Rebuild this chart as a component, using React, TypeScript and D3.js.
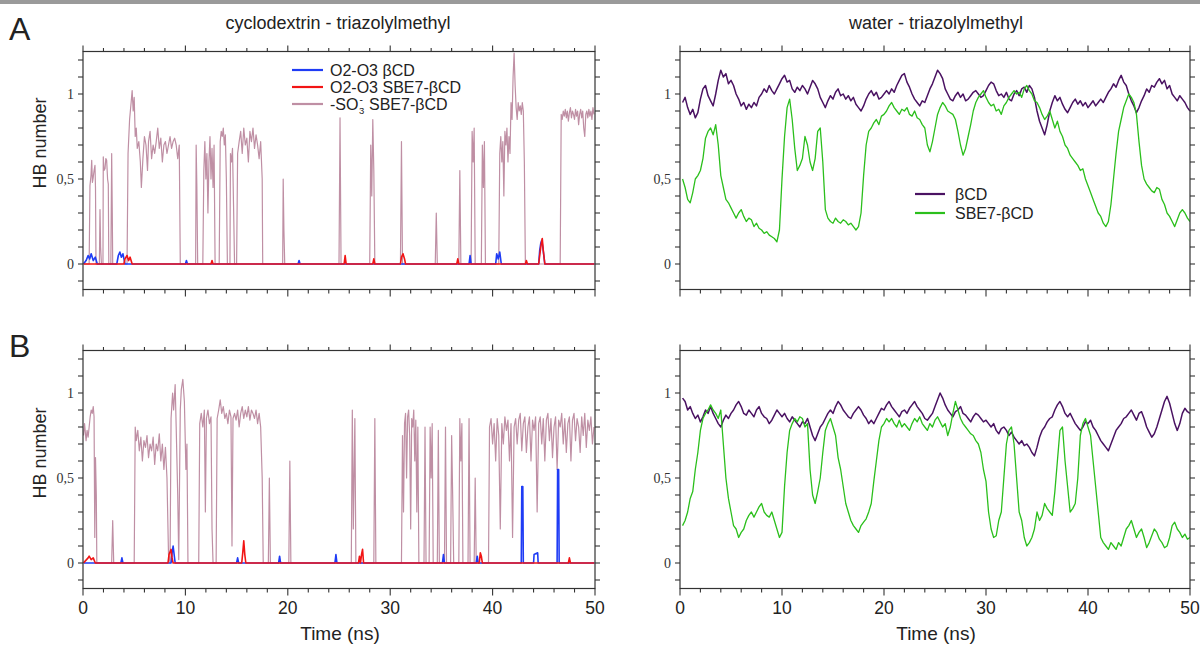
import React from 'react';
import * as d3 from 'd3';

// ---------- DATA ----------
const panelTitles = ['cyclodextrin - triazolylmethyl', 'water - triazolylmethyl'];
const rowLetters = ['A', 'B'];
const xTickLabels = [0, 10, 20, 30, 40, 50];
const yTickLabels = [0, 0.5, 1];
const legendCD = ['O2-O3 βCD', 'O2-O3 SBE7-βCD', 'SBE7-βCD'];
const legendW = ['βCD', 'SBE7-βCD'];

// water series: sampled every 0.25 ns starting at 0.25 ns
const waterStep = 0.25;
const purpleA = [
  .95,.98,.92,.88,.91,.86,.89,.97,1.03,1.05,.99,.96,.93,1.0,1.08,1.14,1.1,1.12,1.06,1.08,
  1.05,1.0,.97,.93,.95,.91,.94,.92,.95,.93,.98,1.0,1.03,1.01,1.05,1.02,1.0,1.03,1.06,1.09,
  1.11,1.07,1.08,1.03,1.01,1.04,1.02,1.05,1.03,1.0,1.04,1.08,1.06,1.03,.98,.95,.92,.96,.99,.97,
  1.01,1.03,.99,1.0,.97,.99,.96,.98,.94,.92,.9,.93,.97,1.0,1.02,.99,1.01,.97,.98,1.0,
  1.02,1.0,1.03,1.01,1.05,1.08,1.11,1.12,1.07,1.04,1.0,.97,.95,.93,.96,.95,.99,1.03,1.06,1.1,
  1.14,1.12,1.09,1.03,1.0,.97,.96,.99,1.01,.98,1.0,.96,.97,.99,1.01,1.02,1.0,.98,.99,1.02,
  1.05,1.07,1.06,1.02,.99,1.0,.98,1.01,.97,.96,1.0,1.02,.99,1.03,1.04,1.01,1.05,1.03,.98,.9,
  .84,.8,.76,.82,.9,.95,.99,.96,.98,.94,.91,.89,.92,.95,.97,.94,.96,.93,.95,.92,
  .94,.96,.93,.95,.97,.95,.98,1.01,1.03,1.06,1.04,1.08,1.11,1.07,1.05,1.0,.96,.93,.89,.92,
  .96,.99,1.03,1.01,1.05,1.04,1.07,1.09,1.06,1.08,1.03,1.05,1.0,.98,.96,.99,.97,.95,.92,.9,
];
const greenA = [
  .5,.45,.38,.36,.42,.5,.52,.55,.62,.74,.78,.8,.76,.82,.7,.52,.45,.38,.36,.33,
  .3,.27,.3,.32,.28,.25,.27,.26,.22,.24,.21,.2,.18,.19,.17,.16,.15,.13,.2,.5,
  .75,.92,.97,.85,.68,.55,.58,.62,.75,.7,.6,.55,.62,.78,.8,.6,.32,.27,.25,.24,
  .27,.25,.24,.26,.25,.23,.24,.22,.2,.22,.3,.52,.7,.78,.8,.83,.85,.82,.87,.88,
  .9,.93,.95,.92,.9,.88,.91,.9,.92,.88,.87,.9,.86,.85,.82,.8,.7,.66,.72,.8,
  .88,.92,.95,.93,.9,.89,.88,.85,.78,.7,.64,.68,.75,.82,.9,.95,.98,1.0,1.02,.98,
  .95,.93,.94,.9,.91,.88,.93,.95,.98,1.0,1.02,1.0,1.01,.98,1.03,1.05,1.02,1.0,.96,.95,
  .92,.88,.85,.87,.9,.85,.8,.84,.78,.75,.7,.68,.64,.62,.6,.58,.55,.56,.5,.46,
  .42,.38,.34,.3,.28,.24,.22,.25,.35,.5,.65,.78,.85,.92,.96,1.0,.98,.95,.88,.72,
  .58,.5,.47,.45,.43,.42,.45,.44,.38,.35,.3,.28,.25,.22,.26,.3,.32,.3,.27,.25,
];
const purpleB = [
  .97,.95,.9,.92,.88,.85,.87,.83,.86,.9,.88,.92,.88,.85,.82,.8,.84,.87,.85,.88,
  .9,.93,.95,.92,.88,.87,.9,.88,.86,.9,.92,.88,.86,.85,.82,.84,.87,.9,.88,.86,
  .88,.85,.83,.86,.84,.82,.8,.83,.82,.85,.8,.75,.72,.76,.8,.82,.85,.88,.9,.88,
  .92,.95,.93,.9,.88,.86,.85,.88,.9,.92,.9,.87,.85,.82,.84,.82,.85,.88,.91,.9,
  .93,.95,.92,.9,.88,.86,.89,.9,.88,.91,.93,.95,.92,.9,.88,.85,.84,.86,.88,.92,
  .96,1.0,.97,.93,.9,.88,.86,.89,.9,.92,.88,.87,.85,.83,.86,.88,.87,.85,.83,.84,
  .82,.8,.82,.78,.76,.79,.8,.78,.75,.77,.74,.72,.7,.72,.69,.7,.68,.65,.63,.68,
  .74,.78,.8,.83,.85,.86,.9,.93,.95,.92,.88,.86,.88,.85,.82,.8,.78,.8,.83,.82,
  .84,.8,.78,.75,.72,.7,.68,.66,.7,.74,.78,.8,.82,.85,.86,.88,.9,.87,.84,.88,
  .89,.85,.8,.77,.74,.76,.8,.85,.9,.95,.98,.94,.88,.82,.78,.82,.88,.91,.89,.88,
];
const greenB = [
  .22,.25,.3,.38,.42,.55,.65,.78,.85,.88,.9,.93,.9,.88,.85,.9,.7,.5,.38,.3,
  .22,.2,.15,.18,.2,.25,.28,.3,.27,.3,.33,.35,.3,.28,.27,.3,.25,.2,.15,.18,
  .45,.65,.78,.82,.85,.83,.86,.85,.8,.82,.55,.4,.35,.42,.5,.65,.78,.82,.85,.8,
  .75,.62,.55,.45,.35,.3,.25,.22,.2,.18,.22,.24,.26,.3,.35,.48,.6,.72,.8,.82,
  .85,.83,.85,.82,.8,.84,.8,.82,.8,.78,.82,.85,.83,.86,.82,.8,.78,.82,.8,.84,
  .86,.83,.8,.82,.75,.8,.88,.95,.9,.85,.82,.8,.78,.76,.75,.72,.7,.65,.55,.48,
  .3,.2,.15,.16,.25,.3,.5,.7,.78,.8,.7,.5,.3,.25,.15,.1,.12,.15,.2,.3,
  .25,.28,.35,.32,.3,.28,.42,.6,.78,.8,.6,.45,.3,.32,.35,.5,.75,.82,.85,.8,
  .75,.6,.45,.3,.15,.12,.1,.08,.12,.1,.08,.12,.1,.15,.2,.22,.25,.2,.15,.18,
  .2,.15,.09,.12,.16,.2,.18,.14,.12,.09,.1,.15,.22,.24,.2,.18,.15,.17,.14,.15,
];

// cyclodextrin series: [time (ns), HB number]
const so3A: [number, number][] = [
  [0.05,0],[0.6,0],[0.68,0.46],[0.78,0.52],[0.85,0.61],[0.92,0.48],[1.0,0.51],[1.08,0.55],[1.17,0.58],[1.22,0.45],[1.27,0],
  [1.6,0],[1.66,0.32],[1.72,0.1],[1.8,0],[1.95,0],[1.98,0.63],[2.05,0.55],[2.15,0.56],[2.23,0.62],[2.31,0.61],[2.4,0.5],[2.47,0.47],[2.52,0],
  [2.72,0],[2.8,0.65],[2.86,0.3],[2.9,0],
  [4.3,0],[4.4,0.65],[4.55,0.85],[4.7,0.95],[4.8,1.02],[4.9,0.9],[5.0,0.98],[5.1,0.75],[5.2,0.8],[5.3,0.68],[5.45,0.72],[5.6,0.6],[5.7,0.45],
  [5.85,0.62],[6.0,0.75],[6.15,0.7],[6.3,0.55],[6.4,0.72],[6.55,0.78],[6.7,0.62],[6.85,0.7],[7.0,0.65],[7.15,0.72],[7.3,0.8],[7.45,0.68],
  [7.6,0.74],[7.75,0.6],[7.9,0.7],[8.05,0.72],[8.2,0.65],[8.35,0.7],[8.5,0.75],[8.65,0.68],[8.8,0.72],[8.95,0.74],[9.1,0.7],[9.25,0.62],[9.4,0.7],[9.5,0],
  [11.0,0],[11.05,0.7],[11.12,0.45],[11.2,0],[11.7,0],[11.8,0.55],[11.9,0.72],[12.0,0.5],[12.1,0.65],[12.2,0.3],[12.3,0.6],[12.4,0.75],[12.5,0.5],
  [12.6,0.68],[12.7,0.45],[12.8,0.7],[12.9,0],[13.3,0],[13.4,0.72],[13.5,0.78],[13.6,0.75],[13.7,0.8],[13.8,0.7],[13.9,0.76],[14.0,0.5],[14.1,0],
  [14.35,0],[14.4,0.65],[14.5,0.6],[14.6,0.68],[14.7,0.35],[14.8,0],[15.0,0],[15.1,0.65],[15.25,0.72],[15.4,0.78],[15.55,0.65],[15.7,0.8],
  [15.85,0.7],[16.0,0.74],[16.15,0.6],[16.3,0.78],[16.45,0.72],[16.6,0.8],[16.75,0.68],[16.9,0.76],[17.05,0.7],[17.2,0.62],[17.35,0.72],[17.5,0.5],[17.55,0],
  [19.5,0],[19.55,0.5],[19.62,0.2],[19.7,0],
  [25.0,0],[25.1,0.86],[25.2,0],[28.0,0],[28.1,0.7],[28.2,0.4],[28.3,0.85],[28.4,0.55],[28.5,0],[31.0,0],[31.1,0.72],[31.2,0],
  [34.4,0],[34.5,0.3],[34.6,0],[36.7,0],[36.8,0.55],[36.9,0],[37.9,0],[38.0,0.78],[38.1,0.6],[38.2,0.8],[38.3,0],
  [38.9,0],[39.0,0.7],[39.1,0.45],[39.2,0.72],[39.3,0],
  [40.6,0],[40.7,0.65],[40.8,0.75],[40.9,0.6],[41.0,0.72],[41.1,0.4],[41.2,0.78],[41.3,0.7],[41.4,0.8],[41.5,0.6],[41.6,0.75],[41.7,0.65],
  [41.8,0.95],[41.9,0.85],[42.0,1.1],[42.1,1.24],[42.2,1.05],[42.3,0.92],[42.4,0.85],[42.5,0.95],[42.6,0.9],[42.7,0.93],[42.8,0.88],
  [42.9,0.95],[43.0,0.9],[43.1,0.6],[43.2,0],
  [46.6,0],[46.7,0.88],[46.8,0.85],[46.9,0.9],[47.0,0.87],[47.1,0.91],[47.2,0.86],[47.3,0.9],[47.4,0.84],[47.5,0.89],[47.6,0.92],
  [47.7,0.86],[47.8,0.9],[47.9,0.88],[48.0,0.85],[48.1,0.91],[48.2,0.87],[48.3,0.9],[48.4,0.82],[48.5,0.88],[48.6,0.91],[48.7,0.86],
  [48.8,0.9],[48.9,0.8],[49.0,0.75],[49.1,0.88],[49.2,0.9],[49.3,0.86],[49.4,0.91],[49.5,0.87],[49.6,0.9],[49.7,0.85],[49.8,0.92],[49.9,0.88],
];
const blueA: [number, number][] = [
  [0.05,0],[0.3,0.02],[0.5,0.05],[0.65,0.03],[0.8,0.06],[1.0,0.02],[1.2,0.04],[1.4,0],[3.3,0],[3.45,0.05],[3.6,0.07],[3.75,0.04],
  [3.9,0.06],[4.1,0],[10,0],[10.1,0.02],[10.2,0],[21.0,0],[21.1,0.02],[21.2,0],[37.7,0],[37.8,0.05],[37.9,0],[40.3,0],[40.4,0.06],
  [40.55,0.03],[40.7,0.07],[40.85,0],[44.5,0],[44.6,0.08],[44.7,0.12],[44.8,0.14],[44.9,0.1],[45.0,0.05],[45.1,0],[49.95,0],
];
const redA: [number, number][] = [
  [0.05,0],[4.0,0],[4.1,0.03],[4.3,0.05],[4.45,0.02],[4.6,0.04],[4.8,0],[12.5,0],[12.6,0.02],[12.7,0],[25.5,0],[25.6,0.05],[25.7,0],
  [28.3,0],[28.4,0.03],[28.5,0],[31.0,0],[31.1,0.04],[31.25,0.06],[31.4,0.03],[31.5,0],[36.5,0],[36.6,0.03],[36.7,0],[43.2,0],
  [43.3,0.02],[43.4,0],[44.5,0],[44.6,0.05],[44.75,0.12],[44.85,0.15],[44.95,0.08],[45.1,0],[49.95,0],
];
const so3B: [number, number][] = [
  [0.05,0.75],[0.15,0.82],[0.3,0.72],[0.4,0.78],[0.5,0.74],[0.6,0.8],[0.7,0.86],[0.8,0.9],[0.9,0.88],[1.0,0.92],[1.08,0.86],[1.15,0.15],
  [1.22,0.62],[1.3,0.4],[1.35,0],[2.8,0],[2.9,0.25],[3.0,0],
  [5.0,0],[5.1,0.8],[5.2,0.72],[5.35,0.78],[5.5,0.66],[5.65,0.74],[5.8,0.6],[5.95,0.72],[6.1,0.68],[6.25,0.75],[6.4,0.62],[6.55,0.7],
  [6.7,0.66],[6.85,0.74],[7.0,0.58],[7.15,0.7],[7.3,0.66],[7.45,0.76],[7.6,0.6],[7.75,0.7],[7.9,0.55],[8.05,0.68],[8.2,0.5],[8.35,0.05],
  [8.5,0],[8.6,0.85],[8.75,1.0],[8.85,0.9],[9.0,1.05],[9.1,0.8],[9.25,0.4],[9.35,0.02],[9.5,0.9],[9.6,1.02],[9.75,1.08],[9.9,0.95],
  [10.05,0.55],[10.15,0.7],[10.25,0],
  [11.3,0],[11.4,0.82],[11.55,0.88],[11.7,0.8],[11.85,0.9],[11.95,0.3],[12.05,0.85],[12.2,0.9],[12.35,0.82],[12.5,0.86],[12.6,0.2],[12.7,0],
  [13.0,0],[13.1,0.85],[13.25,0.9],[13.4,0.96],[13.55,0.88],[13.7,0.92],[13.85,0.85],[14.0,0.88],[14.15,0.82],[14.3,0.9],[14.45,0.86],
  [14.55,0.1],[14.65,0.85],[14.8,0.88],[14.95,0.84],[15.1,0.9],[15.25,0.8],[15.4,0.88],[15.55,0.92],[15.7,0.85],[15.85,0.9],[16.0,0.86],
  [16.15,0.92],[16.3,0.84],[16.45,0.9],[16.6,0.88],[16.75,0.85],[16.9,0.9],[17.05,0.82],[17.2,0.88],[17.35,0.8],[17.5,0.5],[17.6,0],
  [18.1,0],[18.2,0.5],[18.3,0],[20.1,0],[20.2,0.6],[20.3,0],[26.2,0],[26.3,0.9],[26.4,0.2],[26.55,0.85],[26.65,0],[28.4,0],[28.5,0.85],[28.6,0],
  [31.1,0],[31.2,0.75],[31.3,0.3],[31.4,0.82],[31.5,0.88],[31.6,0.5],[31.7,0.86],[31.8,0.9],[31.9,0.75],[32.0,0.2],[32.1,0.85],[32.2,0.8],
  [32.3,0.9],[32.4,0.6],[32.5,0.84],[32.6,0.3],[32.7,0.8],[32.8,0],[33.3,0],[33.4,0.8],[33.5,0],[33.8,0],[33.9,0.8],[34.0,0.5],[34.1,0.82],
  [34.2,0],[34.6,0],[34.7,0.78],[34.8,0],[35.3,0],[35.4,0.8],[35.5,0],[35.9,0],[36.0,0.75],[36.1,0.4],[36.2,0],[36.7,0],[36.8,0.85],
  [36.9,0.6],[37.0,0.82],[37.1,0],[37.6,0],[37.7,0.85],[37.8,0],[38.2,0],[38.3,0.5],[38.4,0],
  [39.6,0],[39.7,0.8],[39.85,0.85],[40.0,0.7],[40.15,0.82],[40.3,0.6],[40.45,0.85],[40.6,0.75],[40.75,0.2],[40.9,0.82],[41.05,0.7],
  [41.2,0.86],[41.35,0.78],[41.5,0.84],[41.65,0.6],[41.8,0.82],[41.95,0.15],[42.1,0.8],[42.25,0.85],[42.4,0.7],[42.55,0.84],[42.7,0.88],
  [42.85,0.66],[43.0,0.82],[43.15,0.86],[43.3,0.65],[43.45,0.8],[43.6,0.86],[43.75,0.6],[43.9,0.84],[44.05,0.78],[44.2,0.86],[44.35,0.3],
  [44.5,0.82],[44.65,0.86],[44.8,0.7],[44.95,0.85],[45.1,0.6],[45.25,0.84],[45.4,0.88],[45.55,0.72],[45.7,0.85],[45.85,0.62],[46.0,0.8],
  [46.15,0.86],[46.3,0.55],[46.45,0.84],[46.6,0.8],[46.75,0.88],[46.9,0.7],[47.05,0.85],[47.2,0.65],[47.35,0.82],[47.5,0.86],[47.65,0.6],
  [47.8,0.84],[47.95,0.88],[48.1,0.72],[48.25,0.85],[48.4,0.8],[48.55,0.65],[48.7,0.86],[48.85,0.75],[49.0,0.88],[49.15,0.68],[49.3,0.84],
  [49.45,0.78],[49.6,0.86],[49.75,0.7],[49.9,0.8],
];
const blueB: [number, number][] = [
  [0.05,0],[3.7,0],[3.8,0.03],[3.9,0],[8.6,0],[8.7,0.06],[8.8,0.1],[8.9,0.05],[9.0,0],[15.0,0],[15.1,0.03],[15.2,0],[19.1,0],[19.2,0.04],
  [19.3,0],[24.6,0],[24.7,0.05],[24.8,0],[35.1,0],[35.2,0.05],[35.3,0],[38.4,0],[38.5,0.04],[38.6,0],[42.8,0],[42.85,0.45],[42.95,0.45],
  [43.0,0],[44.0,0],[44.05,0.05],[44.4,0.06],[44.45,0],[46.3,0],[46.35,0.55],[46.45,0.55],[46.5,0],[49.95,0],
];
const redB: [number, number][] = [
  [0.05,0],[0.5,0.03],[0.6,0.04],[0.8,0.02],[1.0,0.03],[1.2,0],[8.3,0],[8.4,0.05],[8.6,0.08],[8.7,0.03],[8.8,0],[15.5,0],[15.6,0.06],
  [15.7,0.13],[15.8,0.05],[15.9,0],[26.9,0],[27.0,0.04],[27.1,0],[27.2,0.05],[27.3,0.08],[27.4,0],[38.7,0],[38.8,0.06],[38.9,0.04],
  [39.0,0],[47.4,0],[47.5,0.03],[47.6,0],[49.95,0],
];

// ---------- STYLE ----------
const C_BLUE = '#1f3cf5';
const C_RED = '#f21414';
const C_MAUVE = '#bf8fa4';
const C_PURPLE = '#4a1262';
const C_GREEN = '#2bbf1c';
const SANS = 'Liberation Sans, Arial, sans-serif';
const SERIF = 'Liberation Serif, Times New Roman, serif';

type Pt = [number, number];
const toPairs = (vals: number[]): Pt[] => vals.map((v, i) => [(i + 1) * waterStep, v]);

function Panel({ x0, x1, yZero, series, showX }: {
  x0: number; x1: number; yZero: number; showX: boolean;
  series: { data: Pt[]; color: string; width: number }[];
}) {
  const unit = 170;
  const x = d3.scaleLinear().domain([0, 50]).range([x0, x1]);
  const y = d3.scaleLinear().domain([-0.15, 1.25]).range([yZero + 0.15 * unit, yZero - 1.25 * unit]);
  const line = d3.line<Pt>().x(d => x(d[0])).y(d => y(d[1]));
  const xt = d3.range(0, 51, 2);
  const yt = d3.range(-1, 13).map(k => k / 10);
  const top = y(1.25), bot = y(-0.15);
  return (
    <g>
      <defs>
        <clipPath id={`clip-${x0}-${yZero}`}>
          <rect x={x0} y={top} width={x1 - x0} height={bot - top} />
        </clipPath>
      </defs>
      <g clipPath={`url(#clip-${x0}-${yZero})`}>
        {series.map((s, i) => (
          <path key={i} d={line(s.data) || ''} fill="none" stroke={s.color} strokeWidth={s.width} strokeLinejoin="round" />
        ))}
      </g>
      <rect x={x0} y={top} width={x1 - x0} height={bot - top} fill="none" stroke="#333" strokeWidth={1.2} />
      {xt.map(t => {
        const major = t % 10 === 0;
        return (
          <g key={t}>
            <line x1={x(t)} x2={x(t)} y1={top} y2={top - (major ? 6 : 3.5)} stroke="#333" strokeWidth={1.1} />
            <line x1={x(t)} x2={x(t)} y1={bot} y2={bot + (major ? 7 : 4)} stroke="#333" strokeWidth={1.1} />
          </g>
        );
      })}
      {yt.map(v => (
        <g key={v}>
          <line x1={x0} x2={x0 - 5} y1={y(v)} y2={y(v)} stroke="#333" strokeWidth={1.1} />
          <line x1={x1} x2={x1 + 5} y1={y(v)} y2={y(v)} stroke="#333" strokeWidth={1.1} />
        </g>
      ))}
      {yTickLabels.map(v => (
        <text key={v} x={x0 - 9} y={y(v) + 4.5} textAnchor="end" fontFamily={SERIF} fontSize={14} fill="#333">
          {String(v).replace('.', ',')}
        </text>
      ))}
      {showX && xTickLabels.map(t => (
        <text key={t} x={x(t)} y={bot + 25} textAnchor="middle" fontFamily={SANS} fontSize={17.5} fill="#222">{t}</text>
      ))}
    </g>
  );
}

export default function App() {
  const L = { x0: 83, x1: 595 };
  const R = { x0: 680, x1: 1190 };
  const zeroA = 264, zeroB = 563;
  const legY = [70, 87, 104];
  return (
    <svg width={1200} height={647} style={{ position: 'absolute', left: 0, top: 0, background: '#fff' }}>
      <rect x={0} y={0} width={1200} height={4} fill="#9a9a9a" />
      <text x={9} y={40} fontFamily={SANS} fontSize={32} fill="#222">{rowLetters[0]}</text>
      <text x={9} y={357} fontFamily={SANS} fontSize={32} fill="#222">{rowLetters[1]}</text>
      <text x={338} y={29} textAnchor="middle" fontFamily={SANS} fontSize={18} fill="#222">{panelTitles[0]}</text>
      <text x={936} y={29} textAnchor="middle" fontFamily={SANS} fontSize={18} fill="#222">{panelTitles[1]}</text>
      <text transform="translate(46,143) rotate(-90)" textAnchor="middle" fontFamily={SANS} fontSize={18} fill="#222">HB number</text>
      <text transform="translate(46,453) rotate(-90)" textAnchor="middle" fontFamily={SANS} fontSize={18} fill="#222">HB number</text>
      <text x={340} y={640} textAnchor="middle" fontFamily={SANS} fontSize={19} fill="#222">Time (ns)</text>
      <text x={936} y={640} textAnchor="middle" fontFamily={SANS} fontSize={19} fill="#222">Time (ns)</text>

      <Panel {...L} yZero={zeroA} showX={false} series={[
        { data: so3A, color: C_MAUVE, width: 1.2 },
        { data: blueA, color: C_BLUE, width: 1.6 },
        { data: redA, color: C_RED, width: 1.6 },
      ]} />
      <Panel {...R} yZero={zeroA} showX={false} series={[
        { data: toPairs(purpleA), color: C_PURPLE, width: 1.5 },
        { data: toPairs(greenA), color: C_GREEN, width: 1.3 },
      ]} />
      <Panel {...L} yZero={zeroB} showX={true} series={[
        { data: so3B, color: C_MAUVE, width: 1.2 },
        { data: blueB, color: C_BLUE, width: 1.6 },
        { data: redB, color: C_RED, width: 1.6 },
      ]} />
      <Panel {...R} yZero={zeroB} showX={true} series={[
        { data: toPairs(purpleB), color: C_PURPLE, width: 1.5 },
        { data: toPairs(greenB), color: C_GREEN, width: 1.3 },
      ]} />

      {/* legend A cyclodextrin */}
      {[C_BLUE, C_RED, C_MAUVE].map((c, i) => (
        <line key={i} x1={292} x2={323} y1={legY[i]} y2={legY[i]} stroke={c} strokeWidth={2.2} />
      ))}
      <text x={330} y={legY[0] + 5.5} fontFamily={SANS} fontSize={16} fill="#222">{legendCD[0]}</text>
      <text x={330} y={legY[1] + 5.5} fontFamily={SANS} fontSize={16} fill="#222">{legendCD[1]}</text>
      <text x={330} y={legY[2] + 5.5} fontFamily={SANS} fontSize={16} fill="#222">-SO</text>
      <text x={359} y={legY[2] + 9.5} fontFamily={SANS} fontSize={9.5} fill="#222">3</text>
      <text x={359.5} y={legY[2] - 1} fontFamily={SANS} fontSize={10} fill="#222">-</text>
      <text x={369} y={legY[2] + 5.5} fontFamily={SANS} fontSize={16} fill="#222">{legendCD[2]}</text>
      {/* legend A water */}
      {[C_PURPLE, C_GREEN].map((c, i) => (
        <g key={i}>
          <line x1={915} x2={945} y1={194 + i * 19} y2={194 + i * 19} stroke={c} strokeWidth={2.2} />
          <text x={955} y={199.5 + i * 19} fontFamily={SANS} fontSize={16} fill="#222">{legendW[i]}</text>
        </g>
      ))}
    </svg>
  );
}
